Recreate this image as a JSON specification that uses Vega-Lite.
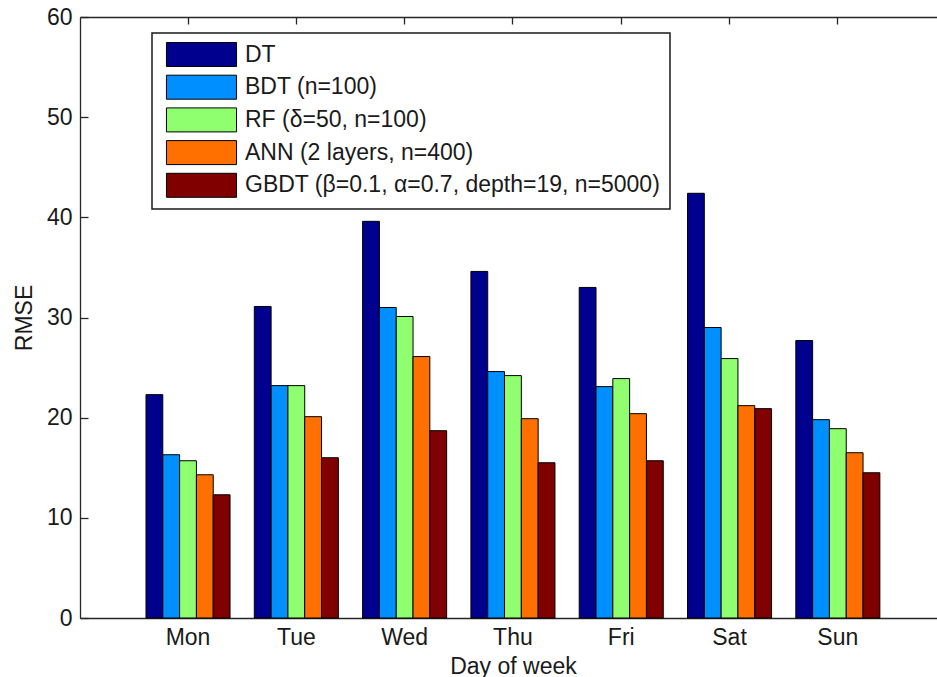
{
  "$schema": "https://vega.github.io/schema/vega-lite/v6.json",
  "autosize": {"type": "none"},
  "padding": {"left": 80, "top": 17, "right": 0, "bottom": 59},
  "width": 857,
  "height": 601,
  "background": "white",
  "config": {
    "view": {"stroke": null},
    "font": "Liberation Sans",
    "axis": {
      "labelFont": "Liberation Sans",
      "titleFont": "Liberation Sans",
      "labelFontSize": 23,
      "titleFontSize": 23,
      "titleFontWeight": "normal",
      "labelColor": "#1a1a1a",
      "titleColor": "#1a1a1a",
      "domainColor": "#262626",
      "domainWidth": 1.3,
      "tickColor": "#262626",
      "tickWidth": 1.3,
      "grid": false
    },
    "legend": {
      "labelFont": "Liberation Sans",
      "labelFontSize": 23,
      "labelColor": "#1a1a1a"
    }
  },
  "data": {
    "values": [
      {"day": "Mon", "model": "DT", "rmse": 22.3},
      {"day": "Mon", "model": "BDT (n=100)", "rmse": 16.3},
      {"day": "Mon", "model": "RF (δ=50, n=100)", "rmse": 15.7},
      {"day": "Mon", "model": "ANN (2 layers, n=400)", "rmse": 14.3},
      {"day": "Mon", "model": "GBDT (β=0.1, α=0.7, depth=19, n=5000)", "rmse": 12.3},
      {"day": "Tue", "model": "DT", "rmse": 31.1},
      {"day": "Tue", "model": "BDT (n=100)", "rmse": 23.2},
      {"day": "Tue", "model": "RF (δ=50, n=100)", "rmse": 23.2},
      {"day": "Tue", "model": "ANN (2 layers, n=400)", "rmse": 20.1},
      {"day": "Tue", "model": "GBDT (β=0.1, α=0.7, depth=19, n=5000)", "rmse": 16.0},
      {"day": "Wed", "model": "DT", "rmse": 39.6},
      {"day": "Wed", "model": "BDT (n=100)", "rmse": 31.0},
      {"day": "Wed", "model": "RF (δ=50, n=100)", "rmse": 30.1},
      {"day": "Wed", "model": "ANN (2 layers, n=400)", "rmse": 26.1},
      {"day": "Wed", "model": "GBDT (β=0.1, α=0.7, depth=19, n=5000)", "rmse": 18.7},
      {"day": "Thu", "model": "DT", "rmse": 34.6},
      {"day": "Thu", "model": "BDT (n=100)", "rmse": 24.6},
      {"day": "Thu", "model": "RF (δ=50, n=100)", "rmse": 24.2},
      {"day": "Thu", "model": "ANN (2 layers, n=400)", "rmse": 19.9},
      {"day": "Thu", "model": "GBDT (β=0.1, α=0.7, depth=19, n=5000)", "rmse": 15.5},
      {"day": "Fri", "model": "DT", "rmse": 33.0},
      {"day": "Fri", "model": "BDT (n=100)", "rmse": 23.1},
      {"day": "Fri", "model": "RF (δ=50, n=100)", "rmse": 23.9},
      {"day": "Fri", "model": "ANN (2 layers, n=400)", "rmse": 20.4},
      {"day": "Fri", "model": "GBDT (β=0.1, α=0.7, depth=19, n=5000)", "rmse": 15.7},
      {"day": "Sat", "model": "DT", "rmse": 42.4},
      {"day": "Sat", "model": "BDT (n=100)", "rmse": 29.0},
      {"day": "Sat", "model": "RF (δ=50, n=100)", "rmse": 25.9},
      {"day": "Sat", "model": "ANN (2 layers, n=400)", "rmse": 21.2},
      {"day": "Sat", "model": "GBDT (β=0.1, α=0.7, depth=19, n=5000)", "rmse": 20.9},
      {"day": "Sun", "model": "DT", "rmse": 27.7},
      {"day": "Sun", "model": "BDT (n=100)", "rmse": 19.8},
      {"day": "Sun", "model": "RF (δ=50, n=100)", "rmse": 18.9},
      {"day": "Sun", "model": "ANN (2 layers, n=400)", "rmse": 16.5},
      {"day": "Sun", "model": "GBDT (β=0.1, α=0.7, depth=19, n=5000)", "rmse": 14.5}
    ]
  },
  "resolve": {"axis": {"x": "independent"}},
  "layer": [
    {
      "mark": {"type": "bar", "stroke": "black", "strokeWidth": 1},
      "encoding": {
        "x": {
          "field": "day",
          "type": "nominal",
          "sort": ["Mon", "Tue", "Wed", "Thu", "Fri", "Sat", "Sun"],
          "scale": {"type": "band", "paddingInner": 0.224, "paddingOuter": 0.5685, "align": 0.536},
          "axis": {"orient": "bottom", "labelAngle": 0, "ticks": false, "labelPadding": 8, "title": "Day of week", "titlePadding": 6, "titleX": 433}
        },
        "xOffset": {
          "field": "model",
          "type": "nominal",
          "sort": ["DT", "BDT (n=100)", "RF (δ=50, n=100)", "ANN (2 layers, n=400)", "GBDT (β=0.1, α=0.7, depth=19, n=5000)"],
          "scale": {"paddingInner": 0, "paddingOuter": 0}
        },
        "y": {
          "field": "rmse",
          "type": "quantitative",
          "scale": {"domain": [0, 60], "nice": false},
          "axis": {"values": [0, 10, 20, 30, 40, 50, 60], "tickSize": -8, "labelPadding": 16, "title": "RMSE", "titlePadding": 10}
        },
        "color": {
          "field": "model",
          "type": "nominal",
          "sort": ["DT", "BDT (n=100)", "RF (δ=50, n=100)", "ANN (2 layers, n=400)", "GBDT (β=0.1, α=0.7, depth=19, n=5000)"],
          "scale": {
            "domain": ["DT", "BDT (n=100)", "RF (δ=50, n=100)", "ANN (2 layers, n=400)", "GBDT (β=0.1, α=0.7, depth=19, n=5000)"],
            "range": ["#00008F", "#008FFF", "#8FFF70", "#FF7000", "#800000"]
          },
          "legend": {
            "title": null,
            "orient": "none",
            "legendX": 72,
            "legendY": 16,
            "padding": 9,
            "strokeColor": "#1a1a1a",
            "fillColor": "white",
            "symbolType": "M-2.92,-1H2.92V1H-2.92Z",
            "symbolSize": 576,
            "symbolOffset": 28,
            "symbolStrokeColor": "black",
            "symbolStrokeWidth": 1,
            "symbolOpacity": 1,
            "rowPadding": 3.7,
            "labelOffset": 31,
            "labelLimit": 0,
            "encode": {"legend": {"update": {"strokeWidth": {"value": 1.5}}}}
          }
        }
      }
    },
    {
      "mark": {"type": "bar", "opacity": 0},
      "encoding": {
        "x": {
          "field": "day",
          "type": "nominal",
          "sort": ["Mon", "Tue", "Wed", "Thu", "Fri", "Sat", "Sun"],
          "axis": {"orient": "top", "labels": false, "title": null, "ticks": true, "tickSize": -7, "domain": true}
        }
      }
    }
  ]
}
